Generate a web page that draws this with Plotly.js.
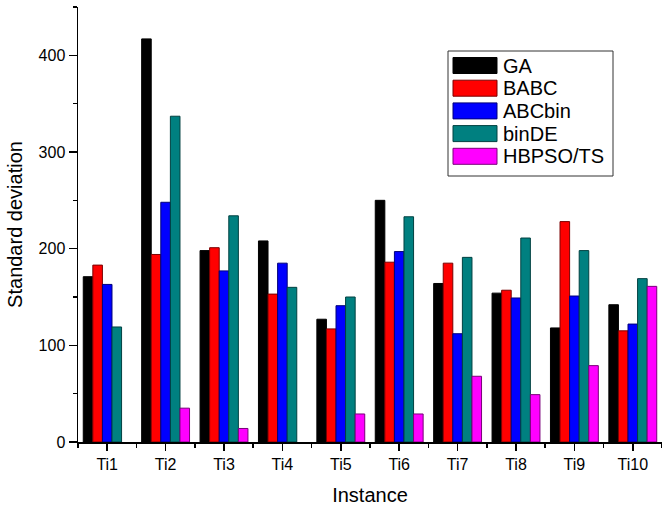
<!DOCTYPE html>
<html>
<head>
<meta charset="utf-8">
<script src="https://cdn.plot.ly/plotly-3.0.1.min.js"></script>
<style>html,body{margin:0;padding:0;background:#fff;}#chart{width:662px;height:509px;}</style>
</head>
<body>
<div id="chart"></div>
<script>
var categories = ["Ti1","Ti2","Ti3","Ti4","Ti5","Ti6","Ti7","Ti8","Ti9","Ti10"];
var seriesNames = ["GA","BABC","ABCbin","binDE","HBPSO/TS"];
var GA      = [171, 417, 198, 208, 127, 250, 164, 154, 118, 142];
var BABC    = [183, 194, 201, 153, 117, 186, 185, 157, 228, 115];
var ABCbin  = [163, 248, 177, 185, 141, 197, 112, 149, 151, 122];
var binDE   = [119, 337, 234, 160, 150, 233, 191, 211, 198, 169];
var HBPSOTS = [null, 35, 14, null, 29, 29, 68, 49, 79, 161];
var yTicks = [0, 100, 200, 300, 400];

var seriesValues = [GA, BABC, ABCbin, binDE, HBPSOTS];
var colors = ["#000000", "#FF0000", "#0000FF", "#008080", "#FF00FF"];
var outline = ["#000000", "#7a0000", "#00007a", "#004040", "#7a007a"];
var xIdx = categories.map(function(_, i){ return i; });

var traces = seriesValues.map(function(vals, k){
  return {
    type: "bar",
    name: seriesNames[k],
    x: xIdx,
    y: vals,
    marker: {color: colors[k], line: {color: outline[k], width: 1}},
    showlegend: false
  };
});

// plot area in pixels
var L = 78, R = 662, T = 7, B = 442;
function px(x){ return (x - L) / (R - L); }
function py(y){ return (B - y) / (B - T); }

var shapes = [{
  type: "rect", xref: "paper", yref: "paper",
  x0: px(448), x1: px(613), y0: py(176), y1: py(51),
  line: {color: "#333", width: 1}, fillcolor: "#ffffff", layer: "above"
}];
var annotations = [];
seriesNames.forEach(function(n, i){
  var cy = 65.5 + 22.7 * i;
  shapes.push({
    type: "rect", xref: "paper", yref: "paper",
    x0: px(453), x1: px(497), y0: py(cy + 8), y1: py(cy - 8),
    line: {color: outline[i], width: 1}, fillcolor: colors[i], layer: "above"
  });
  annotations.push({
    xref: "paper", yref: "paper", x: px(501), y: py(cy),
    xanchor: "left", yanchor: "middle", showarrow: false,
    text: n, font: {size: 20, color: "#000"}
  });
});

var font = {family: "Liberation Sans, Arial, sans-serif", color: "#000", size: 16};

var layout = {
  width: 662, height: 509,
  margin: {l: L, r: 662 - R, t: T, b: 509 - B},
  paper_bgcolor: "#fff", plot_bgcolor: "#fff",
  font: font,
  barmode: "group",
  bargap: 0.18,
  bargroupgap: 0,
  showlegend: false,
  xaxis: {
    range: [-0.5, 9.5],
    tickmode: "array", tickvals: xIdx, ticktext: categories,
    ticks: "outside", ticklen: 7, tickwidth: 1.5, tickcolor: "#000",
    minor: {tickmode: "linear", tick0: 0.5, dtick: 1, ticks: "outside", ticklen: 4, tickwidth: 1.5, tickcolor: "#000"},
    showline: true, linecolor: "#000", linewidth: 1.5,
    showgrid: false, zeroline: false,
    tickfont: {size: 16},
    title: {text: "Instance", font: {size: 20}, standoff: 16}
  },
  yaxis: {
    range: [0, 450],
    tickmode: "array", tickvals: yTicks,
    ticks: "outside", ticklen: 8, tickwidth: 1.5, tickcolor: "#000",
    minor: {tickmode: "linear", tick0: 50, dtick: 100, ticks: "outside", ticklen: 4, tickwidth: 1.5, tickcolor: "#000"},
    showline: true, linecolor: "#000", linewidth: 1.5,
    showgrid: false, zeroline: false,
    tickfont: {size: 16},
    title: {text: "Standard deviation", font: {size: 20}, standoff: 10}
  },
  shapes: shapes,
  annotations: annotations
};

Plotly.newPlot("chart", traces, layout, {displayModeBar: false, staticPlot: true});
</script>
</body>
</html>
